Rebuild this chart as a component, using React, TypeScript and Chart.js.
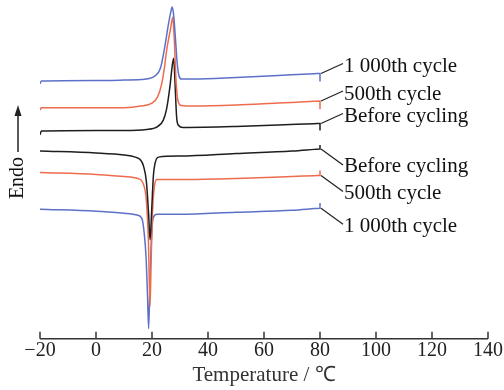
import React, { useEffect, useRef } from "react";
import { Chart, registerables } from "chart.js";

Chart.register(...registerables);

// Temperature (°C) and heat-flow (a.u., endo up) for each DSC trace
const heat1000T = [-20, -19.5, 0, 10, 16, 19, 21, 23, 24.5, 25.8, 26.7, 27.2, 27.7, 28.3, 29, 29.6, 30.5, 35, 50, 65, 78, 80, 80];
const heat1000V = [25.0, 25.25, 25.3, 25.35, 25.4, 25.5, 25.75, 26.5, 28.5, 30.7, 32.0, 32.5, 31.8, 29.7, 27.0, 25.8, 25.45, 25.45, 25.6, 25.8, 25.97, 26.0, 25.2];

const heat500T = [-20, -19.5, 0, 10, 16, 20, 22, 23.4, 24.5, 25.2, 26.7, 27.4, 27.9, 28.6, 29.3, 30.5, 35, 50, 65, 78, 80, 80];
const heat500V = [22.4, 22.65, 22.65, 22.65, 22.8, 23.1, 23.7, 24.9, 26.7, 28.2, 30.5, 31.5, 29.7, 25.2, 23.3, 22.85, 22.8, 22.9, 23.1, 23.27, 23.3, 22.5];

const heat0T = [-20, -19.5, 0, 10, 18, 22, 24, 25.2, 26.4, 27.2, 27.75, 28.2, 28.8, 29.5, 31, 50, 65, 78, 80, 80];
const heat0V = [20.0, 20.35, 20.4, 20.4, 20.5, 20.8, 21.4, 22.5, 24.7, 26.7, 27.5, 25.2, 21.7, 20.9, 20.7, 20.8, 20.95, 21.08, 21.1, 20.4];

const cool0T = [-20, 0, 10, 14, 16, 17, 18, 18.8, 19.3, 19.9, 20.5, 21.1, 22.3, 30, 50, 70, 78, 80, 80];
const cool0V = [18.4, 18.2, 18.0, 17.8, 17.5, 16.9, 15.4, 12.2, 9.7, 12.7, 16.0, 17.2, 17.8, 17.9, 18.15, 18.4, 18.56, 18.6, 19.0];

const cool500T = [-20, 0, 10, 15, 17, 18, 18.7, 19.3, 19.7, 20.2, 20.8, 21.7, 30, 50, 70, 78, 80, 80];
const cool500V = [16.3, 16.1, 15.9, 15.7, 15.1, 13.5, 9.7, 3.2, 7.7, 12.5, 14.8, 15.6, 15.6, 15.7, 15.9, 15.98, 16.0, 16.5];

const cool1000T = [-20, 0, 10, 15, 16.5, 17.2, 17.9, 18.4, 18.8, 19.3, 19.9, 20.5, 21.7, 30, 50, 70, 78, 80, 80];
const cool1000V = [12.7, 12.5, 12.3, 12.1, 11.7, 10.4, 7.9, 4.2, 1.0, 5.9, 10.4, 11.9, 12.2, 12.2, 12.4, 12.6, 12.76, 12.8, 13.3];

const seriesLabels = ["1 000th cycle", "500th cycle", "Before cycling", "Before cycling", "500th cycle", "1 000th cycle"];
const xTicks = [-20, 0, 20, 40, 60, 80, 100, 120, 140];
const xTitle = "Temperature / \u2103";
const yTitle = "Endo";

const BLUE = "rgb(92,112,200)";
const ORANGE = "rgb(238,108,78)";
const BLACK = "rgb(30,30,30)";
const SERIF = '"Liberation Serif", "Times New Roman", serif';

const toPts = (t: number[], v: number[]) => t.map((x, i) => ({ x, y: v[i] }));

export default function App() {
  const ref = useRef<HTMLCanvasElement | null>(null);
  useEffect(() => {
    if (!ref.current) return;
    const sets = [
      { t: heat1000T, v: heat1000V, c: BLUE, heat: true },
      { t: heat500T, v: heat500V, c: ORANGE, heat: true },
      { t: heat0T, v: heat0V, c: BLACK, heat: true },
      { t: cool0T, v: cool0V, c: BLACK, heat: false },
      { t: cool500T, v: cool500V, c: ORANGE, heat: false },
      { t: cool1000T, v: cool1000V, c: BLUE, heat: false },
    ];
    const deco = {
      id: "deco",
      afterDraw(chart: any) {
        const ctx = chart.ctx;
        const xs = chart.scales.x;
        const ys = chart.scales.y;
        const area = chart.chartArea;
        ctx.save();
        // axis line + inward ticks
        ctx.strokeStyle = "#333";
        ctx.lineWidth = 1.5;
        ctx.beginPath();
        ctx.moveTo(xs.getPixelForValue(-20), area.bottom);
        ctx.lineTo(xs.getPixelForValue(140), area.bottom);
        xTicks.forEach((t) => {
          const px = xs.getPixelForValue(t);
          ctx.moveTo(px, area.bottom);
          ctx.lineTo(px, area.bottom - 7);
        });
        ctx.stroke();
        // series labels with leader lines
        ctx.font = `21px ${SERIF}`;
        ctx.fillStyle = "#111";
        ctx.textBaseline = "middle";
        ctx.textAlign = "left";
        sets.forEach((s, i) => {
          const n = s.t.length;
          const ex = xs.getPixelForValue(s.t[n - 2]);
          const ey = ys.getPixelForValue(s.v[n - 2]);
          const lx = ex + 23;
          const ly = s.heat ? ey - 10 : ey + 16;
          ctx.strokeStyle = "#222";
          ctx.lineWidth = 1.2;
          ctx.beginPath();
          ctx.moveTo(ex + 1, ey);
          ctx.lineTo(lx, ly);
          ctx.stroke();
          ctx.fillText(seriesLabels[i], lx + 1, ly + (s.heat ? 3 : 2));
        });
        // Endo label + arrow
        const ax = 18;
        ctx.save();
        ctx.translate(ax + 6, 178);
        ctx.rotate(-Math.PI / 2);
        ctx.textAlign = "center";
        ctx.textBaseline = "middle";
        ctx.font = `20px ${SERIF}`;
        ctx.fillText(yTitle, 0, -6);
        ctx.restore();
        ctx.strokeStyle = "#222";
        ctx.lineWidth = 1.5;
        ctx.beginPath();
        ctx.moveTo(ax, 152);
        ctx.lineTo(ax, 112);
        ctx.stroke();
        ctx.fillStyle = "#222";
        ctx.beginPath();
        ctx.moveTo(ax, 105);
        ctx.lineTo(ax - 3.5, 116);
        ctx.lineTo(ax + 3.5, 116);
        ctx.closePath();
        ctx.fill();
        ctx.restore();
      },
    };
    const chart = new Chart(ref.current, {
      type: "line",
      data: {
        datasets: sets.map((s, i) => ({
          label: seriesLabels[i],
          data: toPts(s.t, s.v),
          borderColor: s.c,
          borderWidth: 1.5,
          pointRadius: 0,
          fill: false,
          cubicInterpolationMode: "monotone",
        })),
      },
      options: {
        responsive: false,
        animation: false,
        devicePixelRatio: 1,
        layout: { padding: { left: 40, right: 32, top: 2, bottom: 0 } },
        plugins: { legend: { display: false }, tooltip: { enabled: false } },
        scales: {
          x: {
            type: "linear",
            min: -20,
            max: 140,
            afterBuildTicks: (sc: any) => {
              sc.ticks = xTicks.map((v) => ({ value: v }));
            },
            grid: { display: false, drawTicks: false },
            border: { display: false },
            ticks: {
              padding: 0,
              color: "#222",
              font: { family: SERIF, size: 20 },
              maxRotation: 0,
              callback: (v: any) => String(v).replace("-", "\u2212"),
            },
            title: {
              display: true,
              text: xTitle,
              color: "#333",
              font: { family: SERIF, size: 21 },
              padding: { top: 0, bottom: 2 },
            },
          },
          y: { display: false, min: 0, max: 33 },
        },
      },
      plugins: [deco],
    } as any);
    return () => chart.destroy();
  }, []);
  return (
    <div style={{ position: "fixed", left: 0, top: 0, width: 504, height: 390, overflow: "hidden", background: "#fff" }}>
      <canvas ref={ref} width={520} height={390} style={{ display: "block" }} />
    </div>
  );
}
